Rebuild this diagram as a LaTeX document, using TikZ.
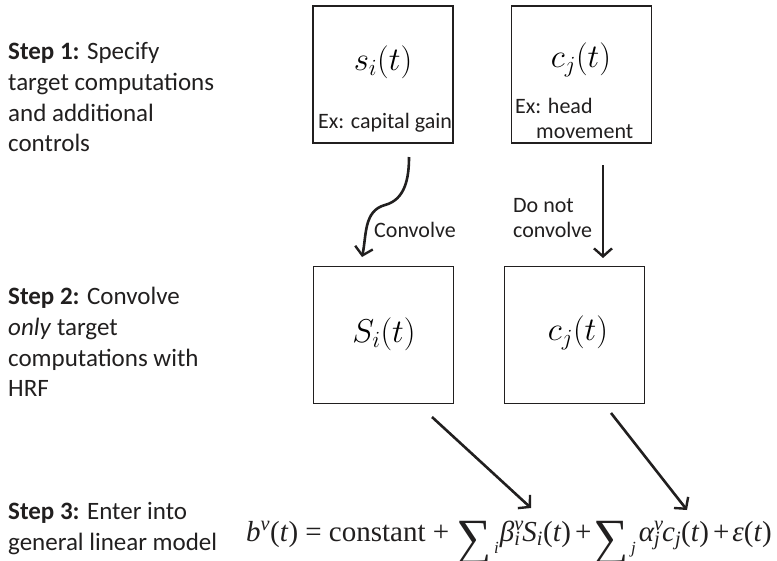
\RequirePackage{fix-cm}
\documentclass[tikz,border=0pt]{standalone}
\usepackage{graphicx}
\usepackage{fontspec}
\setmainfont{Carlito}
\newfontfamily\eqfont{Liberation Serif}
\usepackage{tikz}
\usetikzlibrary{arrows.meta}
\definecolor{dkgray}{rgb}{0.13,0.12,0.12}

\newcommand{\bigsum}{\raisebox{-13pt}{\scalebox{1.7}[1.75]{∑}}}
\newcommand{\lowsub}[1]{\kern2.5pt\raisebox{-12pt}{\fontsize{17}{17}\selectfont\itshape #1}}
\newcommand{\supsubs}[2]{\rlap{\textsuperscript{\itshape #1}}\textsubscript{\itshape #2}}

\tikzset{
  stepnote/.style={anchor=north west, align=left, inner sep=0pt, text=dkgray,
    font=\fontsize{25}{30.8}\selectfont},
  signalbox/.style={draw=dkgray, line width=1.2pt, minimum width=140pt,
    minimum height=137pt, inner sep=0pt},
  boxmath/.style={inner sep=0pt, font=\fontsize{33}{38}\selectfont},
  boxnote/.style={inner sep=0pt, text=dkgray, font=\fontsize{22}{25}\selectfont},
  conv/.style={-{Straight Barb[length=8pt,width=18pt,line width=2.4pt]},
    line width=2.6pt, draw=dkgray}
}

\begin{document}
\begin{tikzpicture}[x=1pt, y=-1pt]

    \useasboundingbox (0, 0) rectangle (777, 560);

    % left column: the three steps
    \node[stepnote] (step1) at (8, 42)
    { \textbf{Step 1:} Specify \\
      target computations \\
      and additional \\
      controls };

    \node[stepnote] (step2) at (8, 287)
    { \textbf{Step 2:} Convolve \\
      \textit{only} target \\
      computations with \\
      HRF };

    \node[stepnote] (step3) at (8, 502)
    { \textbf{Step 3:} Enter into \\
      general linear model };

    % top row: signals before convolution
    \node[signalbox] (target) at (383, 74.5) {};
    \node[boxmath] (targetSig) at (383, 62) {$s_i(t)$};
    \node[boxnote, anchor=base] (targetEx) at (385, 128) {Ex: capital gain};

    \node[signalbox] (control) at (581.5, 74.5) {};
    \node[boxmath] (controlSig) at (581, 60) {$c_j(t)$};
    \node[boxnote, anchor=north west, align=left] (controlEx) at (515, 98)
    { Ex: head \\
      \hskip 21pt movement };

    % middle row: regressors after convolution
    \node[signalbox] (targetConv) at (383.5, 335) {};
    \node[boxmath] (targetConvSig) at (384, 334) {$S_i(t)$};

    \node[signalbox] (controlConv) at (574.5, 335) {};
    \node[boxmath] (controlConvSig) at (578, 333) {$c_j(t)$};

    % bottom: the model
    \node[anchor=base west, inner sep=0pt, text=dkgray] (glm) at (246, 541)
    {\eqfont\fontsize{29}{31}\selectfont
      {\itshape b}\textsuperscript{\itshape v}(\textit{t}) = constant + \bigsum\lowsub{i}\kern1pt{\itshape β}\supsubs{v}{i}\kern2pt{\itshape S}\textsubscript{\itshape i}(\textit{t})\kern4pt+\kern2pt\bigsum\lowsub{j}\kern3pt{\itshape α}\supsubs{v}{j}\kern2pt{\itshape c}\textsubscript{\itshape j}(\textit{t})\kern4pt+\kern3pt{\itshape ε}(\textit{t})};

    \coordinate (targetOut) at (409, 157);
    \coordinate (targetIn) at (362, 257);
    \coordinate (controlOut) at (603, 165);
    \coordinate (controlIn) at (603, 258);
    \coordinate (targetConvOut) at (432, 417);
    \coordinate (glmS) at (531, 508);
    \coordinate (controlConvOut) at (611, 413);
    \coordinate (glmC) at (687, 510);

    \draw[conv] (targetOut) to[out=-90, in=15] (385, 205)
      to[out=195, in=78] (targetIn);
    \node[boxnote, anchor=base west] (convLabel) at (374, 237) {Convolve};

    \draw[conv] (controlOut) -- (controlIn);
    \node[boxnote, anchor=north west, align=left] (noConvLabel) at (513, 198.5)
    { Do not \\ convolve };

    \draw[conv] (targetConvOut) -- (glmS);
    \draw[conv] (controlConvOut) -- (glmC);
  \end{tikzpicture}
\end{document}
